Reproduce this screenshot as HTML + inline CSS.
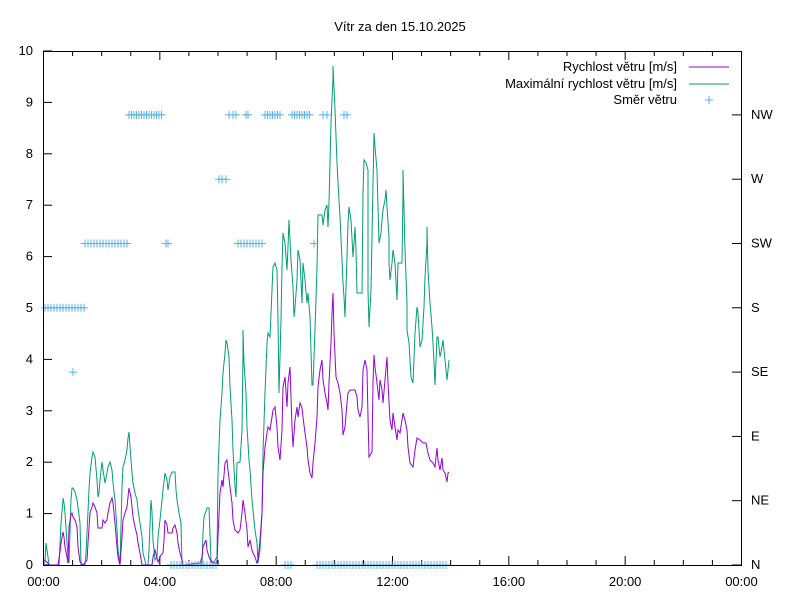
<!DOCTYPE html>
<html><head><meta charset="utf-8"><style>
html,body{margin:0;padding:0;background:#fff}
svg text{font-family:"Liberation Sans",Arial,sans-serif;font-size:13px;fill:#000}
</style></head><body>
<svg id="s" width="800" height="600" xmlns="http://www.w3.org/2000/svg">
<rect width="800" height="600" fill="#fff"/>
<text x="400" y="31" text-anchor="middle">Vítr za den 15.10.2025</text>
<g id="ticks" stroke="#000" stroke-width="1"></g>
<g id="labels"></g>
<polyline fill="none" stroke="#009e73" stroke-width="1" points="43,565 45,562 46,543 48,557 49,565 59,565 61,523 63,500 63,498 64,503 65,513 67,543 68,557 69,563 71,500 72,488 73,488 75,492 77,500 78,507 80,523 81,565 85,565 86,553 87,533 89,490 90,473 92,457 93,452 95,457 97,480 98,497 99,493 100,480 102,462 103,470 105,483 107,473 108,467 110,462 112,470 113,483 115,500 117,530 118,550 120,565 122,487 123,467 125,460 127,450 128,438 129,432 130,447 132,473 133,483 135,493 137,500 138,510 140,523 142,537 143,553 146,565 148,565 149,550 151,500 152,512 153,540 155,560 157,557 158,537 160,520 162,500 163,490 165,473 167,480 168,490 170,477 172,472 175,472 176,490 177,500 179,513 181,523 182,565 202,565 203,533 204,517 207,508 209,508 211,560 213,563 217,557 218,473 220,420 222,393 223,373 225,353 226,340 227,343 229,357 230,387 232,420 233,450 235,487 236,497 237,463 240,462 242,430 243,353 243,330 244,363 246,393 247,427 249,460 250,470 252,500 253,510 255,530 257,543 258,563 260,550 262,513 263,453 265,393 267,343 268,333 270,337 272,290 273,267 275,263 277,270 278,320 279,393 281,320 282,267 283,233 285,243 287,270 288,247 289,220 291,260 293,287 294,317 295,307 297,280 298,250 300,260 302,303 303,263 305,280 307,303 308,293 310,317 312,385 313,385 315,330 317,267 318,215 322,215 323,225 325,210 327,205 328,227 329,203 331,123 332,100 333,78 333,66 335,110 337,163 338,183 340,217 342,260 343,283 344,297 345,317 347,257 348,223 349,207 351,220 353,257 354,243 355,227 356,250 357,293 362,293 363,193 364,160 366,163 368,170 368,290 369,327 371,290 373,183 374,133 375,147 377,170 378,207 379,243 381,233 382,220 383,210 385,200 386,190 387,207 389,237 389,263 390,280 392,263 393,250 395,263 397,300 398,263 402,263 403,193 403,170 405,250 407,303 407,330 409,343 411,377 413,383 415,333 417,307 418,313 420,347 422,340 424,307 425,277 427,243 427,227 428,270 430,303 432,327 433,343 434,363 435,385 437,337 438,337 440,357 442,347 443,340 445,360 447,380 448,370 449,360"/>
<polyline fill="none" stroke="#9400d3" stroke-width="1" points="43,560 44,560 47,562 49,565 58,565 60,552 61,543 63,532 64,537 65,547 67,557 68,563 69,527 71,515 72,513 73,517 75,520 77,527 78,547 80,562 83,565 87,560 88,543 90,513 92,507 93,503 95,507 97,513 98,528 102,528 103,520 105,523 107,520 108,513 110,503 112,498 113,503 115,523 117,547 118,557 120,565 122,537 123,520 125,513 127,507 128,497 129,488 131,497 132,507 133,517 135,527 137,535 138,543 140,553 142,565 152,565 153,557 155,550 157,558 158,562 161,555 163,553 164,540 165,520 167,525 168,533 172,533 173,528 175,525 177,533 178,543 180,553 182,560 183,565 200,563 202,557 203,547 206,540 207,550 209,557 212,563 217,563 218,537 220,493 222,480 223,487 225,463 227,460 228,470 230,487 232,503 233,520 235,530 238,533 240,530 242,513 243,500 245,513 247,530 248,547 250,540 252,550 253,553 255,557 257,563 258,560 260,540 262,513 263,473 265,447 267,433 268,427 270,430 272,417 273,410 275,407 277,427 278,447 280,460 282,430 283,387 285,377 287,407 288,383 290,367 292,427 293,447 295,420 297,407 298,417 300,403 302,408 303,417 305,433 307,447 308,460 310,473 312,478 313,463 315,443 317,417 318,387 320,370 322,360 323,380 325,393 327,403 328,410 329,383 331,343 332,313 333,293 334,333 336,377 338,383 340,393 342,410 343,435 345,427 347,403 348,393 350,390 355,390 357,397 358,410 360,417 362,407 363,370 365,360 367,370 368,417 369,457 372,452 373,383 374,355 375,367 377,383 379,400 380,380 382,390 383,403 385,380 387,357 388,383 390,420 392,430 393,413 395,427 397,440 398,430 400,433 402,420 403,413 405,420 407,430 408,447 410,463 413,467 415,450 417,438 420,440 423,443 426,443 428,453 430,460 433,463 435,467 437,448 438,460 440,470 442,458 443,470 445,473 447,482 448,473 449,472"/>
<g id="dir" stroke="#56b4e9" stroke-width="1"></g>
<rect x="43.5" y="51.5" width="698" height="514" fill="none" stroke="#000"/>
<text x="677" y="71" text-anchor="end">Rychlost větru [m/s]</text>
<line x1="689" y1="67" x2="729" y2="67" stroke="#9400d3"/>
<text x="677" y="88" text-anchor="end">Maximální rychlost větru [m/s]</text>
<line x1="689" y1="84" x2="729" y2="84" stroke="#009e73"/>
<text x="677" y="104" text-anchor="end">Směr větru</text>
<path d="M705,100h8M709,96v8" stroke="#56b4e9"/>
</svg>
<script>
const ns="http://www.w3.org/2000/svg",s=document.getElementById('s');
const T=document.getElementById('ticks'),L=document.getElementById('labels'),D=document.getElementById('dir');
function el(p,t,a){const e=document.createElementNS(ns,t);for(const k in a)e.setAttribute(k,a[k]);p.appendChild(e);return e;}
for(let i=0;i<=10;i++){const y=565-i*51.4;el(T,'line',{x1:43,y1:y,x2:52,y2:y});
 const t=el(L,'text',{x:33,y:y+4,'text-anchor':'end'});t.textContent=i;}
for(let h=0;h<=24;h++){const x=43.5+h*29.083;const len=h%4==0?9:5;
 el(T,'line',{x1:x,y1:565,x2:x,y2:565-len});el(T,'line',{x1:x,y1:51,x2:x,y2:51+len});
 if(h%4==0){const t=el(L,'text',{x:x,y:586,'text-anchor':'middle'});t.textContent=String(h%24).padStart(2,'0')+':00';}}
const dn=['N','NE','E','SE','S','SW','W','NW'];
for(let i=0;i<8;i++){const y=565-i*64.3;el(T,'line',{x1:741,y1:y,x2:732,y2:y});
 const t=el(L,'text',{x:751,y:y+4});t.textContent=dn[i];}
function run(a,b,st,lv){for(let x=a;x<=b+0.01;x+=st)pt(x,lv);}
function pt(x,lv){const y=565-lv*64.3;el(D,'path',{d:`M${x-4},${y}h8M${x},${y-4}v8`});}
run(45,84,3,4);pt(73,3);run(85,128,3,5);pt(166,5);pt(168,5);run(129,163,2.5,7);
run(171,218,3,0);pt(219,6);pt(222,6);pt(226,6);pt(229,7);pt(233,7);pt(236,7);pt(246,7);pt(248,7);
run(265,282,2.5,7);run(292,311,2.5,7);pt(323,7);pt(327,7);pt(344,7);pt(347,7);
run(238,262,3,5);pt(314,5);pt(285,0);pt(288,0);pt(291,0);run(317,447,3,0);
</script>
</body></html>
